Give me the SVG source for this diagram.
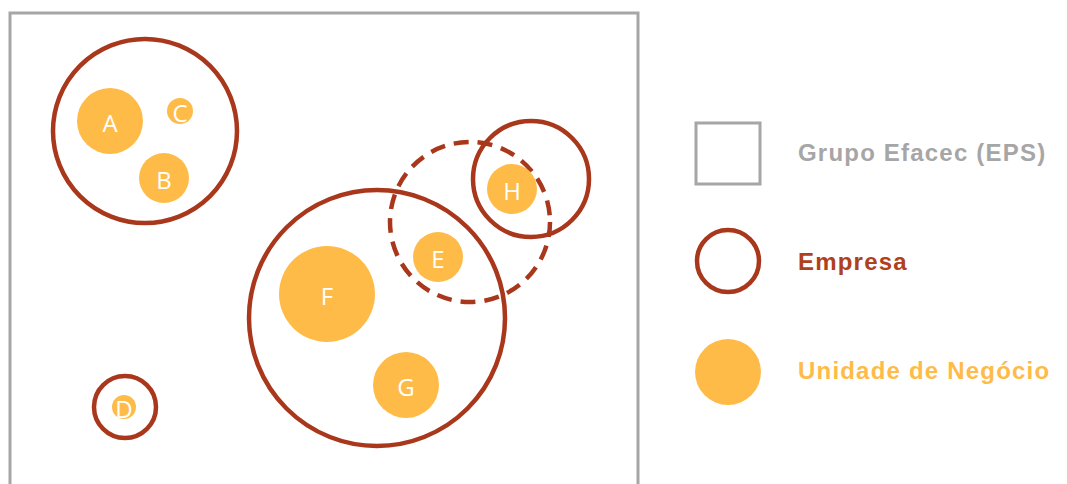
<svg xmlns="http://www.w3.org/2000/svg" width="1067" height="484" viewBox="0 0 1067 484">
<style>
.frame{fill:none;stroke:#A6A6A6;stroke-width:3}
.emp{fill:none;stroke:#A9371B;stroke-width:4.5}
.dash{fill:none;stroke:#A9371B;stroke-width:4.5;stroke-dasharray:15 9}
.un{fill:#FFBB48}
.lbl{font-family:"Open Sans","Liberation Sans",sans-serif;font-size:24px;fill:#FFFFFF;text-anchor:middle;dominant-baseline:central}
.leg{font-family:"Liberation Sans",Arial,sans-serif;font-weight:bold;font-size:24px;letter-spacing:1.2px}
</style>
<rect id="grupo" class="frame" x="10" y="13" width="628" height="480"/>
<g id="empresa-abc"><circle class="emp" cx="145" cy="131" r="92"/></g>
<g id="A"><circle class="un" cx="110" cy="121" r="33"/><text class="lbl" x="110" y="122">A</text></g>
<g id="B"><circle class="un" cx="164" cy="178" r="25"/><text class="lbl" x="164" y="179">B</text></g>
<g id="C"><circle class="un" cx="180" cy="111" r="13"/><text class="lbl" x="180" y="112">C</text></g>
<g id="empresa-d"><circle class="emp" cx="125" cy="407" r="31"/></g>
<g id="D"><circle class="un" cx="124" cy="407" r="12"/><text class="lbl" x="124" y="408">D</text></g>
<g id="empresa-efg"><circle class="emp" cx="377" cy="318" r="128"/></g>
<g id="empresa-dashed"><circle class="dash" cx="470" cy="222" r="80"/></g>
<g id="empresa-h"><circle class="emp" cx="531" cy="179" r="58"/></g>
<g id="E"><circle class="un" cx="438" cy="257" r="25"/><text class="lbl" x="438" y="258">E</text></g>
<g id="F"><circle class="un" cx="327" cy="294" r="48"/><text class="lbl" x="327" y="295">F</text></g>
<g id="G"><circle class="un" cx="406" cy="385" r="33"/><text class="lbl" x="406" y="386">G</text></g>
<g id="H"><circle class="un" cx="512" cy="189" r="25"/><text class="lbl" x="512" y="190">H</text></g>
<g id="connectors"></g>
<g id="legend">
<rect class="frame" x="696" y="123" width="64" height="61"/>
<text class="leg" x="798" y="161" fill="#A6A6A6">Grupo Efacec (EPS)</text>
<circle class="emp" cx="728" cy="261" r="31"/>
<text class="leg" x="798" y="270" fill="#B0401C">Empresa</text>
<circle class="un" cx="728" cy="372" r="33"/>
<text class="leg" x="798" y="379" fill="#FFBB48">Unidade de Negócio</text>
</g>
</svg>
